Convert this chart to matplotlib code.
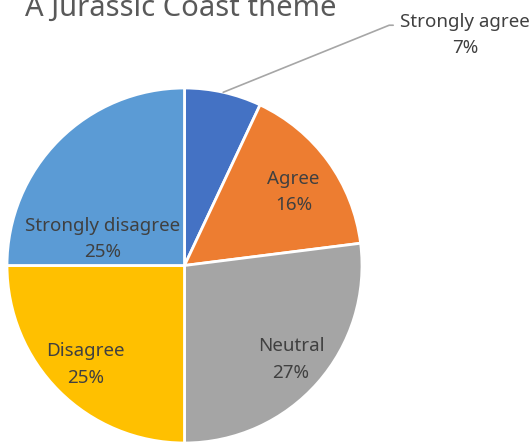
import numpy as np
import matplotlib
matplotlib.use("Agg")
import matplotlib.pyplot as plt

plt.rcParams['font.family'] = ['Noto Sans', 'DejaVu Sans']

# data
categories = ["Strongly agree", "Agree", "Neutral", "Disagree", "Strongly disagree"]
percents = [7, 16, 27, 25, 25]
colors = ["#4472C4", "#ED7D31", "#A5A5A5", "#FFC000", "#5B9BD5"]
title = "A Jurassic Coast theme"

W, H = 532, 443
fig = plt.figure(figsize=(W / 100, H / 100), dpi=100)
ax = fig.add_axes([0, 0, 1, 1])

cx, cy, r = 184.5, H - 265.5, 177.5
wedges, _ = ax.pie(percents, startangle=90, counterclock=False, colors=colors,
                   center=(cx, cy), radius=r, frame=True,
                   wedgeprops=dict(edgecolor="white", linewidth=2))
ax.set_xlim(0, W)
ax.set_ylim(0, H)
ax.axis("off")

txt_color = "#404040"
fs = 13.5
ls = 1.6
dists = [None, 0.74, 0.80, 0.79, None]
for w, cat, p, d in zip(wedges, categories, percents, dists):
    ang = np.deg2rad((w.theta1 + w.theta2) / 2)
    label = f"{cat}\n{p}%"
    if cat == "Strongly agree":
        ex, ey = cx + r * np.cos(ang), cy + r * np.sin(ang)
        ax.annotate(label, xy=(ex, ey), xytext=(465, H - 35),
                    ha="center", va="center", fontsize=fs, color=txt_color,
                    linespacing=ls,
                    arrowprops=dict(arrowstyle="-", color="#A6A6A6", lw=1.2,
                                    shrinkA=3, shrinkB=0,
                                    connectionstyle="angle,angleA=0,angleB=22,rad=0",
                                    relpos=(0, 0.72)))
    elif cat == "Strongly disagree":
        ax.text(103, H - 239, label, ha="center", va="center",
                fontsize=fs, color=txt_color, linespacing=ls)
    else:
        ang2 = ang - np.deg2rad(2) if cat == "Agree" else ang
        ax.text(cx + d * r * np.cos(ang2), cy + d * r * np.sin(ang2), label,
                ha="center", va="center", fontsize=fs, color=txt_color,
                linespacing=ls)

ax.text(25, H - 16, title, ha="left", va="baseline", fontsize=21, color="#595959")

fig.savefig("out.png", dpi=100)
